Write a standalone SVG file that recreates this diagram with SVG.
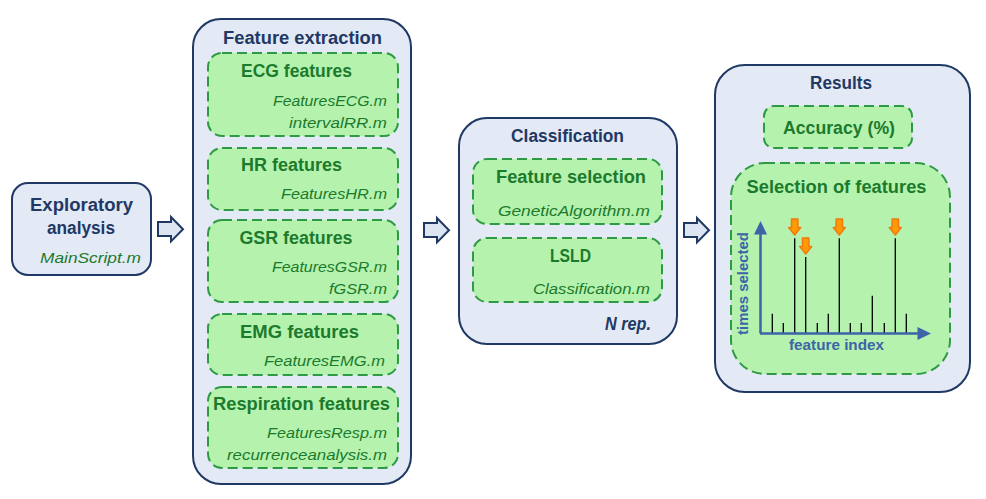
<svg xmlns="http://www.w3.org/2000/svg" width="986" height="499" viewBox="0 0 986 499">
<defs>
<style>
.outer{fill:#e3e9f5;stroke:#1f3864;stroke-width:2}
.inner{fill:#b5f2ae;stroke:#2e9a44;stroke-width:2;stroke-dasharray:10 5}
.t{font-family:"Liberation Sans",Arial,sans-serif;font-weight:bold;font-size:18px;fill:#1f3864;text-anchor:middle}
.g{font-family:"Liberation Sans",Arial,sans-serif;font-weight:bold;font-size:18px;fill:#1c7a2c;text-anchor:middle}
.f{font-family:"Liberation Sans",Arial,sans-serif;font-style:italic;font-size:15.5px;fill:#1c7a2c;text-anchor:end}
.ax{font-family:"Liberation Sans",Arial,sans-serif;font-weight:bold;font-size:14px;fill:#3c64a8;text-anchor:middle}
.blk{fill:#dde4f2;stroke:#1f3864;stroke-width:2;stroke-linejoin:miter}
.bar{stroke:#000;stroke-width:1.3}
.oa{fill:#ff9a00;stroke:#f07a10;stroke-width:1.5;stroke-linejoin:round}
</style>
<path id="blockArrow" d="M0,5 H13 V0 L25,12.2 L13,24.4 V19 H0 Z"/>
<path id="orangeArrow" d="M-3.2,0 H3.2 V8.5 H6 L0,16 L-6,8.5 H-3.2 Z"/>
</defs>

<g id="connectors">
<use href="#blockArrow" class="blk" x="158" y="217"/>
<use href="#blockArrow" class="blk" x="424" y="218"/>
<use href="#blockArrow" class="blk" x="684" y="218"/>
</g>

<g id="exploratory">
<rect class="outer" x="12" y="183" width="139" height="92" rx="16"/>
<text class="t" x="81.5" y="211" textLength="103" lengthAdjust="spacingAndGlyphs">Exploratory</text>
<text class="t" x="81" y="234" textLength="68" lengthAdjust="spacingAndGlyphs">analysis</text>
<text class="f" x="141" y="263" textLength="101" lengthAdjust="spacingAndGlyphs">MainScript.m</text>
</g>

<g id="feature-extraction">
<rect class="outer" x="193" y="19" width="218" height="465" rx="28"/>
<text class="t" x="302.5" y="44" textLength="159" lengthAdjust="spacingAndGlyphs">Feature extraction</text>
</g>

<g id="ecg">
<rect class="inner" x="208" y="53" width="190" height="83" rx="14"/>
<text class="g" x="296.5" y="77" textLength="111" lengthAdjust="spacingAndGlyphs">ECG features</text>
<text class="f" x="387" y="106" textLength="114" lengthAdjust="spacingAndGlyphs">FeaturesECG.m</text>
<text class="f" x="387" y="128" textLength="98" lengthAdjust="spacingAndGlyphs">intervalRR.m</text>
</g>

<g id="hr">
<rect class="inner" x="208" y="148" width="190" height="62" rx="14"/>
<text class="g" x="291.5" y="171" textLength="101" lengthAdjust="spacingAndGlyphs">HR features</text>
<text class="f" x="387" y="199" textLength="106" lengthAdjust="spacingAndGlyphs">FeaturesHR.m</text>
</g>

<g id="gsr">
<rect class="inner" x="208" y="220" width="190" height="82" rx="14"/>
<text class="g" x="296" y="244" textLength="113" lengthAdjust="spacingAndGlyphs">GSR features</text>
<text class="f" x="387" y="272" textLength="115" lengthAdjust="spacingAndGlyphs">FeaturesGSR.m</text>
<text class="f" x="387" y="294" textLength="58" lengthAdjust="spacingAndGlyphs">fGSR.m</text>
</g>

<g id="emg">
<rect class="inner" x="208" y="314" width="190" height="61" rx="14"/>
<text class="g" x="299.5" y="338" textLength="119" lengthAdjust="spacingAndGlyphs">EMG features</text>
<text class="f" x="385" y="366" textLength="121" lengthAdjust="spacingAndGlyphs">FeaturesEMG.m</text>
</g>

<g id="respiration">
<rect class="inner" x="208" y="387" width="190" height="81" rx="14"/>
<text class="g" x="301.5" y="410" textLength="177" lengthAdjust="spacingAndGlyphs">Respiration features</text>
<text class="f" x="387" y="438" textLength="120" lengthAdjust="spacingAndGlyphs">FeaturesResp.m</text>
<text class="f" x="387" y="460" textLength="160" lengthAdjust="spacingAndGlyphs">recurrenceanalysis.m</text>
</g>

<g id="classification">
<rect class="outer" x="459" y="118" width="218" height="226" rx="28"/>
<text class="t" x="567.5" y="142" textLength="113" lengthAdjust="spacingAndGlyphs">Classification</text>
<text class="t" x="651" y="330" style="font-style:italic;text-anchor:end" textLength="46" lengthAdjust="spacingAndGlyphs">N rep.</text>
</g>

<g id="feature-selection">
<rect class="inner" x="473" y="159" width="189" height="65" rx="14"/>
<text class="g" x="571" y="183" textLength="150" lengthAdjust="spacingAndGlyphs">Feature selection</text>
<text class="f" x="650" y="216" textLength="152" lengthAdjust="spacingAndGlyphs">GeneticAlgorithm.m</text>
</g>

<g id="lsld">
<rect class="inner" x="473" y="238" width="189" height="64" rx="14"/>
<text class="g" x="570.5" y="262" textLength="41" lengthAdjust="spacingAndGlyphs">LSLD</text>
<text class="f" x="650" y="294" textLength="117" lengthAdjust="spacingAndGlyphs">Classification.m</text>
</g>

<g id="results">
<rect class="outer" x="715" y="65" width="255" height="327" rx="30"/>
<text class="t" x="841" y="89" textLength="62" lengthAdjust="spacingAndGlyphs">Results</text>
</g>

<g id="accuracy">
<rect class="inner" x="764" y="106" width="148" height="42" rx="10"/>
<text class="g" x="839" y="134" textLength="112" lengthAdjust="spacingAndGlyphs">Accuracy (%)</text>
</g>

<g id="selection-of-features">
<rect class="inner" x="731" y="163" width="219" height="211" rx="34"/>
<text class="g" x="836.5" y="193" textLength="180" lengthAdjust="spacingAndGlyphs">Selection of features</text>
<g id="chart">
<line class="bar" x1="772.3" y1="333" x2="772.3" y2="313.7"/>
<line class="bar" x1="783.3" y1="333" x2="783.3" y2="323"/>
<line class="bar" x1="794.7" y1="333" x2="794.7" y2="238.3"/>
<line class="bar" x1="805.7" y1="333" x2="805.7" y2="257"/>
<line class="bar" x1="817.3" y1="333" x2="817.3" y2="323"/>
<line class="bar" x1="828.3" y1="333" x2="828.3" y2="313.7"/>
<line class="bar" x1="839.3" y1="333" x2="839.3" y2="238.3"/>
<line class="bar" x1="850.3" y1="333" x2="850.3" y2="323"/>
<line class="bar" x1="861.3" y1="333" x2="861.3" y2="323"/>
<line class="bar" x1="872.3" y1="333" x2="872.3" y2="295.7"/>
<line class="bar" x1="884.3" y1="333" x2="884.3" y2="323"/>
<line class="bar" x1="895.3" y1="333" x2="895.3" y2="238.3"/>
<line class="bar" x1="906.3" y1="333" x2="906.3" y2="313.7"/>
<path d="M760.5,333.5 V232 M760,333.5 H919" fill="none" stroke="#3c64a8" stroke-width="2.5"/>
<path d="M760.5,221 L767,234.5 H754 Z" fill="#3c64a8"/>
<path d="M931,333.5 L917.5,327 V340 Z" fill="#3c64a8"/>
<use href="#orangeArrow" class="oa" x="794.7" y="219"/>
<use href="#orangeArrow" class="oa" x="805.7" y="238"/>
<use href="#orangeArrow" class="oa" x="839.3" y="219"/>
<use href="#orangeArrow" class="oa" x="895.3" y="219"/>
<text class="ax" x="836.5" y="350" textLength="95" lengthAdjust="spacingAndGlyphs">feature index</text>
<text class="ax" transform="translate(748,283.5) rotate(-90)" x="0" y="0" textLength="103" lengthAdjust="spacingAndGlyphs">times selected</text>
</g>
</g>
</svg>
